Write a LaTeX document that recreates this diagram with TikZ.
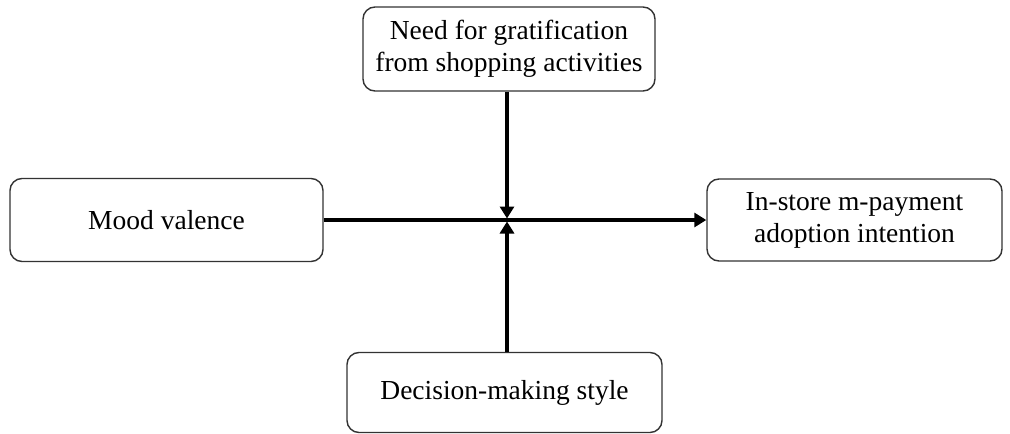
\documentclass[tikz,border=0pt]{standalone}
\usepackage{fontspec}
\setmainfont{Liberation Serif}
\usetikzlibrary{arrows.meta}
\begin{document}
\begin{tikzpicture}[x=1pt,y=-1pt,
  box/.style={draw=black!80, line width=1.4pt, rounded corners=12pt, align=center,
    font=\fontsize{27.5}{32}\selectfont, inner sep=0pt},
  conn/.style={line width=3.4pt, -{Triangle[length=12pt,width=14pt]}}]
\useasboundingbox (0,0) rectangle (1010,434);
\node[box, minimum width=292pt, minimum height=84pt] (top) at (509,49) {\raisebox{-3pt}{\parbox{290pt}{\centering Need for gratification\\from shopping activities}}};
\node[box, minimum width=313pt, minimum height=83pt] (left) at (166.5,220) {Mood valence};
\node[box, minimum width=295pt, minimum height=82pt] (right) at (854.5,220) {In-store m-payment\\adoption intention};
\node[box, minimum width=315pt, minimum height=80pt] (bottom) at (504.5,392.5) {\raisebox{-4pt}{Decision-making style}};
\coordinate (j) at (507,220);
\draw[conn] (left.east) -- (right.west);
\draw[conn, shorten >=1.5pt] (top.south -| j) -- (j);
\draw[conn, shorten >=1.5pt] (bottom.north -| j) -- (j);
\end{tikzpicture}
\end{document}
